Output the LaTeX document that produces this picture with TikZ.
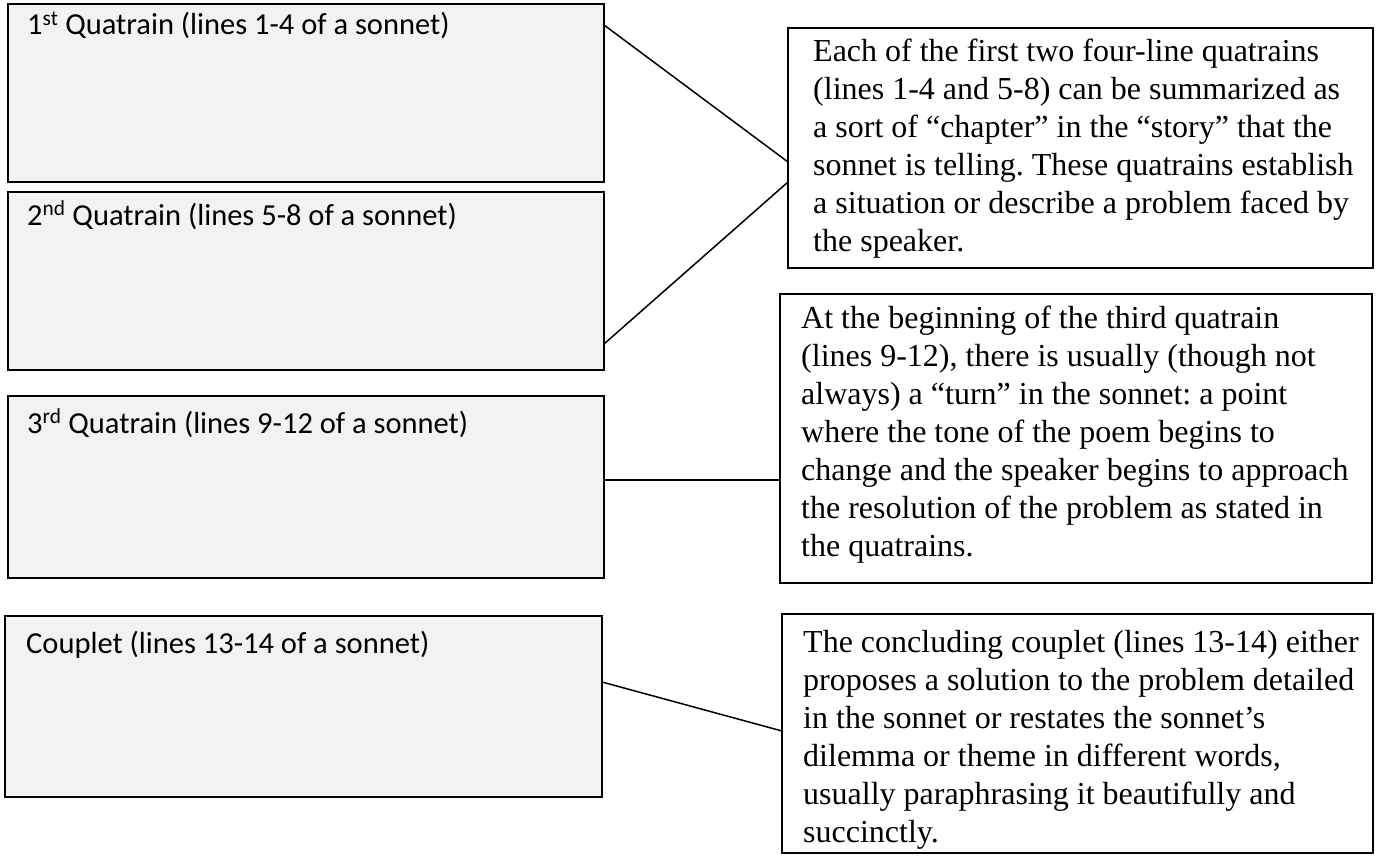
\documentclass[tikz,border=0pt]{standalone}
\usepackage{fontspec}
\setmainfont{Liberation Serif}
\newfontfamily\calibrifont{Carlito}
\usetikzlibrary{calc}
\definecolor{boxgray}{HTML}{F2F2F2}
\begin{document}
\begin{tikzpicture}[x=1pt,y=-1pt,
  lbox/.style={draw=black, line width=2pt, fill=boxgray, anchor=north west, inner sep=0pt, outer sep=0pt},
  rbox/.style={draw=black, line width=2pt, fill=white, anchor=north west, inner sep=0pt, outer sep=0pt},
  ltext/.style={anchor=base west, inner sep=0pt, font=\calibrifont\fontsize{30.5}{36}\selectfont},
  rtext/.style={anchor=base west, inner sep=0pt, text width=580pt, align=flush left, font=\fontsize{32}{38}\selectfont\frenchspacing},
  link/.style={draw=black, line width=1.5pt}]
\useasboundingbox (0,0) rectangle (1380,856);
% left boxes
\node[lbox, minimum width=596pt, minimum height=178pt] (q1) at (8,4) {};
\node[lbox, minimum width=596pt, minimum height=178pt] (q2) at (8,192) {};
\node[lbox, minimum width=596pt, minimum height=182pt] (q3) at (8,396) {};
\node[lbox, minimum width=597pt, minimum height=181pt] (cp) at (5,616) {};
% right boxes
\node[rbox, minimum width=585pt, minimum height=240pt] (r1) at (788,28) {};
\node[rbox, minimum width=592pt, minimum height=289pt] (r2) at (780,294) {};
\node[rbox, minimum width=591pt, minimum height=239pt] (r3) at (782,614) {};
% left texts
\node[ltext] (t1) at ($(q1.north west)+(19,31)$) {1\textsuperscript{st} Quatrain (lines 1-4 of a sonnet)};
\node[ltext] (t2) at ($(q2.north west)+(19,33)$) {2\textsuperscript{nd} Quatrain (lines 5-8 of a sonnet)};
\node[ltext] (t3) at ($(q3.north west)+(19,37)$) {3\textsuperscript{rd} Quatrain (lines 9-12 of a sonnet)};
\node[ltext] (t4) at ($(cp.north west)+(21,37)$) {Couplet (lines 13-14 of a sonnet)};
% right texts
\node[rtext] (u1) at ($(r1.north west)+(25,34)$) {Each of the first two four-line quatrains\\
(lines 1-4 and 5-8) can be summarized as\\
a sort of “chapter” in the “story” that the\\
sonnet is telling. These quatrains establish\\
a situation or describe a problem faced by\\
the speaker.};
\node[rtext] (u2) at ($(r2.north west)+(21,34)$) {At the beginning of the third quatrain\\
(lines 9-12), there is usually (though not\\
always) a “turn” in the sonnet: a point\\
where the tone of the poem begins to\\
change and the speaker begins to approach\\
the resolution of the problem as stated in\\
the quatrains.};
\node[rtext] (u3) at ($(r3.north west)+(21,38)$) {The concluding couplet (lines 13-14) either\\
proposes a solution to the problem detailed\\
in the sonnet or restates the sonnet’s\\
dilemma or theme in different words,\\
usually paraphrasing it beautifully and\\
succinctly.};
% connectors
\draw[link] ($(q1.north east)+(0,21)$) -- ($(r1.north west)+(0,134)$);
\draw[link] ($(q2.north east)+(0,152)$) -- ($(r1.north west)+(0,154)$);
\draw[link] ($(q3.north east)+(0,84)$) -- ($(r2.north west)+(0,186)$);
\draw[link] ($(cp.north east)+(0,66)$) -- ($(r3.north west)+(0,117)$);
\end{tikzpicture}
\end{document}
